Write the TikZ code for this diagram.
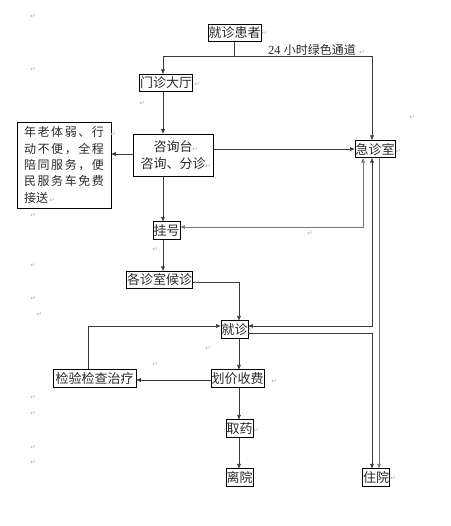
\documentclass[tikz,border=0pt]{standalone}
\usepackage{fontspec}
\newfontfamily\cjk{Noto Sans CJK SC}
\newfontfamily\dv{DejaVu Sans}
\newfontfamily\lserif{Liberation Serif}
\usetikzlibrary{arrows.meta}
\definecolor{ln}{HTML}{3A3A3A}
\definecolor{lnl}{HTML}{7A7A7A}
\definecolor{tx}{HTML}{2A2A2A}
\begin{document}
\begin{tikzpicture}[x=1pt,y=-1pt,
  box/.style={draw=black, line width=0.6pt, inner xsep=0.6pt, inner ysep=0pt,
    minimum height=17.5pt, text=tx, font=\cjk\fontsize{13}{15}\selectfont},
  conn/.style={draw=ln, line width=0.6pt},
  connl/.style={draw=lnl, line width=0.6pt},
  arr/.style={-{Triangle[length=4.5pt,width=3.6pt]}},
  darr/.style={{Triangle[length=4.5pt,width=3.6pt]}-{Triangle[length=4.5pt,width=3.6pt]}},
  ret/.style={text=gray!65, font=\dv\fontsize{6.5}{7}\selectfont, inner sep=0pt}]
\useasboundingbox (0,0) rectangle (450,526);

% nodes
\node[box] (pat) at (234.5,33) {就诊患者};
\node[box] (hall) at (166,83) {门诊大厅};
\node[box, minimum width=80pt, minimum height=42pt, align=center,
  font=\cjk\fontsize{13}{17}\selectfont] (desk) at (173,155) {咨询台\\咨询、分诊};
\node[box, minimum width=94pt, minimum height=86pt, text width=80pt, align=left,
  inner xsep=7pt, font=\cjk\fontsize{12}{16.3}\selectfont] (old) at (64,165)
  {\makebox[80pt]{年\hfill{}老\hfill{}体\hfill{}弱\hfill{}、\hfill{}行}\\
   \makebox[80pt]{动\hfill{}不\hfill{}便\hfill{}，\hfill{}全\hfill{}程}\\
   \makebox[80pt]{陪\hfill{}同\hfill{}服\hfill{}务\hfill{}，\hfill{}便}\\
   \makebox[80pt]{民\hfill{}服\hfill{}务\hfill{}车\hfill{}免\hfill{}费}\\
   接送};
\node[box] (er) at (375,149) {急诊室};
\node[box] (reg) at (166.5,230.5) {挂号};
\node[box] (wait) at (159.5,280) {各诊室候诊};
\node[box] (visit) at (234.5,329.5) {就诊};
\node[box] (pay) at (237.5,378.5) {划价收费};
\node[box, minimum width=83pt] (test) at (94.5,378.5) {检验检查治疗};
\node[box] (med) at (239.5,428.5) {取药};
\node[box] (leave) at (239.5,477.5) {离院};
\node[box] (hosp) at (376,477.5) {住院};

\node[anchor=base west, inner sep=0pt, text=tx] (green) at (268,55)
  {\lserif\fontsize{12.5}{14}\selectfont 24 \cjk\fontsize{12}{14}\selectfont 小时绿色通道};

% helper coordinates
\coordinate (tL) at (163,56);
\coordinate (tR) at (372,56);
\coordinate (cx) at (163,0);
\coordinate (vx) at (239,0);
\coordinate (g) at (363,227);
\coordinate (e1) at (372,326);
\coordinate (e2) at (372,333);
\coordinate (e3) at (379,0);
\coordinate (w1) at (239,282);
\coordinate (t1) at (88,326);

% connectors
\draw[conn] (pat.south) -- (pat.south |- tL);
\draw[conn, arr] (tL) -- (hall.north -| tL);
\draw[conn, arr] (tL) -- (tR) -- (er.north -| tR);
\draw[conn, arr] (hall.south -| cx) -- (desk.north -| cx);
\draw[conn, arr] (desk.west |- 0,154) -- (old.east |- 0,154);
\draw[conn, arr] (desk.east |- er.west) -- (er.west);
\draw[conn, arr] (desk.south -| cx) -- (reg.north -| cx);
\draw[connl, darr] (reg.east |- g) -- (g) -- (er.south -| g);
\draw[conn, arr] (reg.south -| cx) -- (wait.north -| cx);
\draw[conn, arr] (wait.east |- w1) -- (w1) -- (visit.north -| w1);
\draw[conn, arr] (test.north -| t1) -- (t1) -- (visit.west |- t1);
\draw[conn, darr] (visit.east |- e1) -- (e1) -- (er.south -| e1);
\draw[conn, arr] (visit.east |- e2) -- (e2) -- (hosp.north -| e2);
\draw[connl, arr] (er.south -| e3) -- (hosp.north -| e3);
\draw[conn, arr] (visit.south -| vx) -- (pay.north -| vx);
\draw[conn, arr] (pay.west |- 0,380) -- (test.east |- 0,380);
\draw[conn, arr] (pay.south -| vx) -- (med.north -| vx);
\draw[conn, arr] (med.south -| vx) -- (leave.north -| vx);

% paragraph marks
\foreach \p [count=\i] in {(33,16),(264,33),(362,52),(33,69),(197,84),(142,103),
  (412,117),(113,134),(195,149),(208,166),(52,200),(398,151),(33,215),(310,233),
  (155,249),(33,265),(197,282),(33,298),(39,314),(251,329),(208,348),(155,364),
  (274,381),(33,397),(33,413),(256,430),(33,447),(33,462),(393,478)}
  \node[ret] (r\i) at \p {↵};
\end{tikzpicture}
\end{document}
